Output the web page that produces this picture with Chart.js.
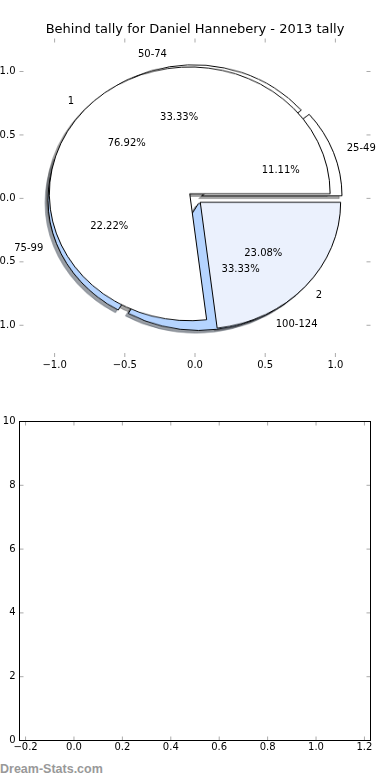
<!DOCTYPE html>
<html>
<head>
<meta charset="utf-8">
<script src="https://cdn.jsdelivr.net/npm/chart.js@4.4.1/dist/chart.umd.min.js"></script>
<style>
  html, body { margin: 0; padding: 0; background: #fff; }
  #wrap { position: relative; width: 390px; height: 780px; overflow: hidden; }
  #wrap canvas { position: absolute; }
  #watermark {
    position: absolute; left: 0; top: 762.7px;
    font: bold 12.5px "Liberation Sans", Arial, sans-serif;
    line-height: 12.5px; color: #999; white-space: nowrap;
  }
</style>
</head>
<body>
<div id="wrap">
  <canvas id="shadow1" width="360" height="360" style="z-index:1"></canvas>
  <canvas id="shadow2" width="360" height="360" style="z-index:2"></canvas>
  <canvas id="pie1" width="360" height="360" style="z-index:3"></canvas>
  <canvas id="pie2" width="360" height="360" style="z-index:4"></canvas>
  <canvas id="axesTop" width="390" height="380" style="left:0;top:0;z-index:5"></canvas>
  <canvas id="axesBottom" width="390" height="400" style="left:0;top:380px;z-index:5"></canvas>
  <div id="watermark">Dream-Stats.com</div>
</div>
<script>
// first pie: score ranges
const PIE1_LABELS = ['25-49', '50-74', '75-99', '100-124'];
const PIE1_VALUES = [1, 3, 2, 3];
// second pie drawn on top
const PIE2_LABELS = ['1', '2'];
const PIE2_VALUES = [10, 3];

const PIE_TICKS = [-1, -0.5, 0, 0.5, 1];
const EMPTY_X_TICKS = [-0.2, 0, 0.2, 0.4, 0.6, 0.8, 1.0, 1.2];
const EMPTY_Y_TICKS = [0, 2, 4, 6, 8, 10];

const PIE1_COLORS = ['#ffffff', '#ffffff', '#b5d4ff', '#b5d4ff'];
const PIE2_COLORS = ['#ffffff', '#ebf1fd'];
const EXPLODE = 0.05;
const LABEL_DIST = 1.1;
const PCT_DIST = 0.6;
const SHADOW_OFF = -0.02;
const HALF = 180;

const FONT = 'DejaVu Sans';
Chart.defaults.font.family = FONT;
Chart.defaults.color = '#000';

function shade(hex) {
  const n = parseInt(hex.slice(1), 16);
  const r = (n >> 16) & 255, g = (n >> 8) & 255, b = n & 255;
  return `rgba(${Math.round(r * 0.3)},${Math.round(g * 0.3)},${Math.round(b * 0.3)},0.5)`;
}

function fmt1(v) {
  return (v < 0 ? '\u2212' : '') + Math.abs(v).toFixed(1);
}

// ticks drawn inside the axes box, like the old matplotlib look
const innerTicks = {
  id: 'innerTicks',
  afterDraw(chart, args, opts) {
    const { ctx, chartArea: a, scales: { x, y } } = chart;
    const len = 4;
    ctx.save();
    ctx.strokeStyle = '#aaa';
    ctx.lineWidth = 1;
    ctx.beginPath();
    x.ticks.forEach(t => {
      const px = x.getPixelForValue(t.value);
      ctx.moveTo(px, a.top); ctx.lineTo(px, a.top + len);
      ctx.moveTo(px, a.bottom); ctx.lineTo(px, a.bottom - len);
    });
    y.ticks.forEach(t => {
      const py = y.getPixelForValue(t.value);
      ctx.moveTo(a.left, py); ctx.lineTo(a.left + len, py);
      ctx.moveTo(a.right, py); ctx.lineTo(a.right - len, py);
    });
    ctx.stroke();
    if (opts.frame) {
      ctx.strokeStyle = '#000';
      ctx.strokeRect(a.left, a.top, a.right - a.left, a.bottom - a.top);
    }
    ctx.restore();
  }
};

// slice labels and percentages, placed like matplotlib's pie()
const pieText = {
  id: 'pieText',
  afterDraw(chart) {
    const { ctx, scales: { x, y } } = chart;
    ctx.save();
    ctx.fillStyle = '#000';
    ctx.font = `10px "${FONT}"`;
    ctx.textBaseline = 'middle';
    [[PIE1_LABELS, PIE1_VALUES], [PIE2_LABELS, PIE2_VALUES]].forEach(([labels, values]) => {
      const total = values.reduce((s, v) => s + v, 0);
      let theta1 = 0;
      values.forEach((v, i) => {
        const frac = v / total;
        const tm = 2 * Math.PI * (theta1 + frac / 2);
        theta1 += frac;
        const ox = EXPLODE * Math.cos(tm), oy = EXPLODE * Math.sin(tm);
        const lx = ox + LABEL_DIST * Math.cos(tm), ly = oy + LABEL_DIST * Math.sin(tm);
        ctx.textAlign = lx > 0 ? 'left' : 'right';
        ctx.fillText(labels[i], x.getPixelForValue(lx), y.getPixelForValue(ly));
        const px = ox + PCT_DIST * Math.cos(tm), py = oy + PCT_DIST * Math.sin(tm);
        ctx.textAlign = 'center';
        ctx.fillText((frac * 100).toFixed(2) + '%', x.getPixelForValue(px), y.getPixelForValue(py));
      });
    });
    ctx.restore();
  }
};

function axisOpts(min, max, ticks, fmt, isX, fitSize, pad) {
  return {
    type: 'linear',
    min, max,
    afterBuildTicks: s => { s.ticks = ticks.map(v => ({ value: v })); },
    afterFit: s => { if (isX) s.height = fitSize; else s.width = fitSize; },
    grid: { display: false, drawTicks: false },
    border: { display: false },
    ticks: {
      autoSkip: false, maxRotation: 0,
      padding: pad,
      font: { family: FONT, size: 10 },
      color: '#000',
      callback: v => fmt(v)
    }
  };
}

const axesTop = new Chart(document.getElementById('axesTop'), {
  type: 'scatter',
  data: { datasets: [] },
  options: {
    responsive: false, devicePixelRatio: 1, animation: false, events: [],
    layout: { padding: { left: 0, right: 19.5, top: 0, bottom: 0 } },
    scales: {
      x: axisOpts(-1.25, 1.25, PIE_TICKS, fmt1, true, 23, 2),
      y: axisOpts(-1.25, 1.26, PIE_TICKS, fmt1, false, 19.5, 4)
    },
    plugins: {
      legend: { display: false },
      tooltip: { enabled: false },
      title: {
        display: true,
        fullSize: false,
        text: 'Behind tally for Daniel Hannebery - 2013 tally',
        color: '#000',
        font: { family: FONT, size: 13, weight: 'normal' },
        padding: { top: 22.2, bottom: 0.7 }
      },
      innerTicks: { frame: false }
    }
  },
  plugins: [innerTicks, pieText]
});

new Chart(document.getElementById('axesBottom'), {
  type: 'scatter',
  data: { datasets: [] },
  options: {
    responsive: false, devicePixelRatio: 1, animation: false, events: [],
    layout: { padding: { left: 0, right: 19.5, top: 41.5, bottom: 0 } },
    scales: {
      x: axisOpts(-0.225, 1.225, EMPTY_X_TICKS, fmt1, true, 39.5, 1),
      y: axisOpts(0, 10, EMPTY_Y_TICKS, v => String(v), false, 19.5, 4)
    },
    plugins: {
      legend: { display: false },
      tooltip: { enabled: false },
      innerTicks: { frame: true }
    }
  },
  plugins: [innerTicks]
});

// pie geometry comes from the top axes scales
const xs = axesTop.scales.x, ys = axesTop.scales.y;
const cx = xs.getPixelForValue(0), cy = ys.getPixelForValue(0);
const rx = xs.getPixelForValue(1) - cx;
const ry = cy - ys.getPixelForValue(1);
const shX = xs.getPixelForValue(SHADOW_OFF) - cx;
const shY = ys.getPixelForValue(SHADOW_OFF) - cy;

// explode: move each wedge centre outwards along its middle angle
const explodePlugin = {
  id: 'explode',
  afterDatasetsUpdate(chart, args, opts) {
    chart.getDatasetMeta(0).data.forEach(arc => {
      const mid = (arc.startAngle + arc.endAngle) / 2;
      arc.x += Math.cos(mid) * opts.distance;
      arc.y += Math.sin(mid) * opts.distance;
    });
  }
};

function makePie(id, labels, values, fill, edge, dx, dy) {
  const el = document.getElementById(id);
  el.style.left = (cx - HALF) + 'px';
  el.style.top = (cy - HALF) + 'px';
  el.style.transformOrigin = `${HALF}px ${HALF}px`;
  el.style.transform = `translate(${dx}px, ${dy}px) scaleY(${ry / rx})`;
  // chart.js runs clockwise from 12 o'clock; matplotlib runs anticlockwise from 3 o'clock
  return new Chart(el, {
    type: 'pie',
    data: {
      labels: labels.slice().reverse(),
      datasets: [{
        data: values.slice().reverse(),
        backgroundColor: fill.slice().reverse(),
        borderColor: edge.slice().reverse(),
        borderWidth: 1,
        borderJoinStyle: 'miter'
      }]
    },
    options: {
      responsive: false, devicePixelRatio: 1, animation: false, events: [],
      rotation: 90,
      radius: rx,
      layout: { padding: 0 },
      plugins: {
        legend: { display: false },
        tooltip: { enabled: false },
        explode: { distance: EXPLODE * rx }
      }
    },
    plugins: [explodePlugin]
  });
}

const sh1 = PIE1_COLORS.map(shade), sh2 = PIE2_COLORS.map(shade);
makePie('shadow1', PIE1_LABELS, PIE1_VALUES, sh1, sh1, shX, shY);
makePie('shadow2', PIE2_LABELS, PIE2_VALUES, sh2, sh2, shX, shY);
makePie('pie1', PIE1_LABELS, PIE1_VALUES, PIE1_COLORS, PIE1_COLORS.map(() => '#000'), 0, 0);
makePie('pie2', PIE2_LABELS, PIE2_VALUES, PIE2_COLORS, PIE2_COLORS.map(() => '#000'), 0, 0);
</script>
</body>
</html>
